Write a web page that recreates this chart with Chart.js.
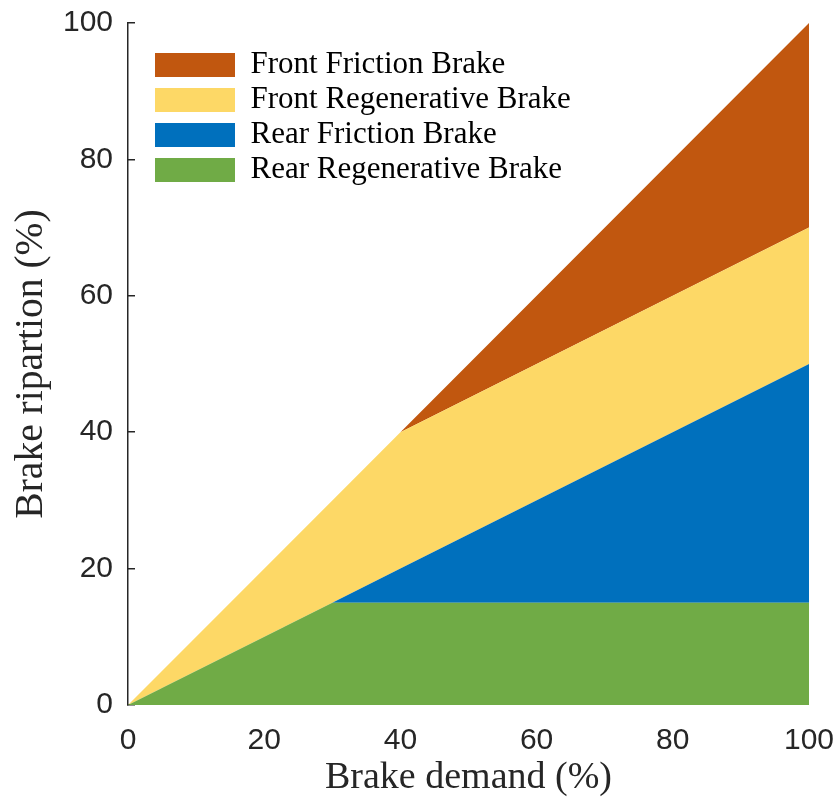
<!DOCTYPE html>
<html>
<head>
<meta charset="utf-8">
<script src="https://cdn.jsdelivr.net/npm/chart.js@4.4.0/dist/chart.umd.min.js"></script>
<style>
  html, body { margin: 0; padding: 0; background: #fff; }
  #wrap { width: 835px; height: 798px; }
</style>
</head>
<body>
<div id="wrap"><canvas id="myChart"></canvas></div>
<script>
// brake demand breakpoints (%)
const demand = [0, 30, 40, 100];
// stacked shares at each breakpoint (%)
const rearRegen = [0, 15, 15, 15];
const rearFriction = [0, 0, 5, 35];
const frontRegen = [0, 15, 20, 20];
const frontFriction = [0, 0, 0, 30];
const axisTicks = [0, 20, 40, 60, 80, 100];

const serif = '"Liberation Serif", "Times New Roman", serif';
const sans = '"Liberation Sans", Arial, Helvetica, sans-serif';
const axisColor = '#262626';

function pts(values) {
  return demand.map((x, i) => ({ x: x, y: values[i] }));
}

// move the in-axes legend to where it sits in the figure
// (a vertical legend resets its own top to 0 during layout)
const legendShift = {
  id: 'legendShift',
  afterLayout(chart) {
    chart.legend.left = chart.chartArea.left + 23;
    chart.legend.top = chart.chartArea.top + 22.5;
  }
};

// no extra room for overhanging tick labels, layout padding is exact
function noOverhang(scale) {
  scale.paddingTop = 0;
  scale.paddingBottom = 0;
  scale.paddingLeft = 0;
  scale.paddingRight = 0;
}

const ctx = document.getElementById('myChart');

new Chart(ctx, {
  type: 'line',
  data: {
    datasets: [
      {
        label: 'Rear Regenerative Brake',
        data: pts(rearRegen),
        backgroundColor: '#70AB46',
        fill: 'origin'
      },
      {
        label: 'Rear Friction Brake',
        data: pts(rearFriction),
        backgroundColor: '#0070BD',
        fill: '-1'
      },
      {
        label: 'Front Regenerative Brake',
        data: pts(frontRegen),
        backgroundColor: '#FDD866',
        fill: '-1'
      },
      {
        label: 'Front Friction Brake',
        data: pts(frontFriction),
        backgroundColor: '#C1570F',
        fill: '-1'
      }
    ]
  },
  options: {
    responsive: true,
    maintainAspectRatio: false,
    animation: false,
    devicePixelRatio: 1,
    elements: {
      line: { borderWidth: 0, tension: 0 },
      point: { radius: 0, hoverRadius: 0 }
    },
    layout: {
      padding: { top: 23, right: 26, bottom: 0, left: 0 }
    },
    scales: {
      x: {
        type: 'linear',
        min: 0,
        max: 100,
        afterBuildTicks(scale) {
          scale.ticks = axisTicks.map(v => ({ value: v }));
        },
        afterFit(scale) {
          scale.height = 93;
          noOverhang(scale);
        },
        grid: { display: false },
        border: { display: false },
        ticks: {
          padding: 10,
          color: axisColor,
          font: { family: sans, size: 30 }
        },
        title: {
          display: true,
          text: 'Brake demand (%)',
          color: axisColor,
          font: { family: serif, size: 38, lineHeight: 1 },
          padding: { top: 0, bottom: 1 }
        }
      },
      y: {
        stacked: true,
        min: 0,
        max: 100,
        afterBuildTicks(scale) {
          scale.ticks = axisTicks.map(v => ({ value: v }));
        },
        afterFit(scale) {
          scale.width = 128;
          noOverhang(scale);
        },
        grid: {
          drawOnChartArea: false,
          drawTicks: true,
          tickLength: -7,
          color: axisColor,
          lineWidth: 1.5
        },
        border: { display: true, color: axisColor, width: 1.5 },
        ticks: {
          padding: 22,
          color: axisColor,
          font: { family: sans, size: 30 }
        },
        title: {
          display: true,
          text: 'Brake ripartion (%)',
          color: axisColor,
          font: { family: serif, size: 39.5, lineHeight: 1 },
          padding: { top: 12, bottom: 0 }
        }
      }
    },
    plugins: {
      legend: {
        position: 'chartArea',
        align: 'start',
        reverse: true,
        labels: {
          boxWidth: 80,
          boxHeight: 24,
          padding: 4,
          color: '#000',
          font: { family: serif, size: 31 }
        }
      },
      tooltip: { enabled: false }
    }
  },
  plugins: [legendShift]
});
</script>
</body>
</html>
